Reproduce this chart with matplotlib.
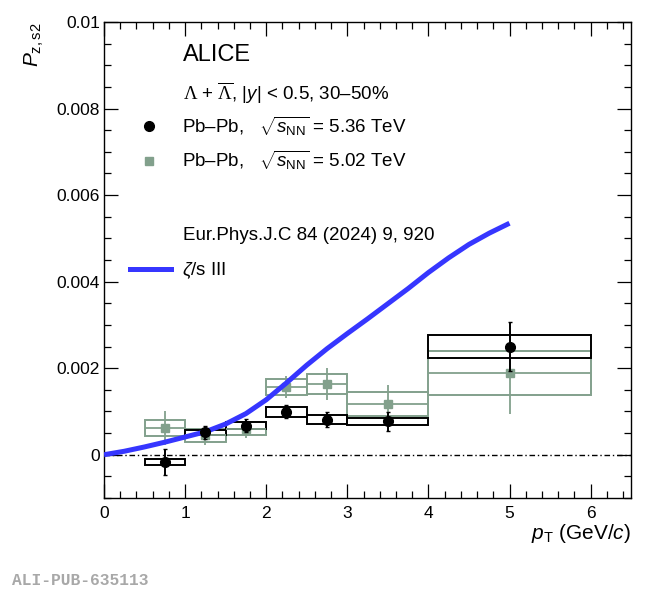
import matplotlib
matplotlib.use('Agg')
import matplotlib.pyplot as plt
from matplotlib.lines import Line2D
from matplotlib.ticker import MultipleLocator, FixedLocator
import numpy as np

plt.rcParams['font.family'] = ['Liberation Sans', 'DejaVu Sans']
plt.rcParams['mathtext.fontset'] = 'custom'
plt.rcParams['mathtext.rm'] = 'Liberation Sans'
plt.rcParams['mathtext.it'] = 'Liberation Sans:italic'
plt.rcParams['mathtext.bf'] = 'Liberation Sans:bold'
plt.rcParams['mathtext.sf'] = 'Liberation Serif'  # serif greek like ROOT

# pT bins
pt = np.array([0.75, 1.25, 1.75, 2.25, 2.75, 3.5, 5.0])
pt_lo = np.array([0.5, 1.0, 1.5, 2.0, 2.5, 3.0, 4.0])
pt_hi = np.array([1.0, 1.5, 2.0, 2.5, 3.0, 4.0, 6.0])

# Pb-Pb 5.36 TeV
pz_536 = np.array([-0.00016, 0.00052, 0.00067, 0.00099, 0.00081, 0.00077, 0.00250])
stat_536 = np.array([0.00030, 0.00015, 0.00015, 0.00015, 0.00018, 0.00022, 0.00056])
sys_536 = np.array([0.00007, 0.00006, 0.00008, 0.00011, 0.00010, 0.00009, 0.00026])

# Pb-Pb 5.02 TeV
pz_502 = np.array([0.00062, 0.00045, 0.00060, 0.00156, 0.00163, 0.00117, 0.00189])
stat_502 = np.array([0.00039, 0.00022, 0.00022, 0.00026, 0.00037, 0.00045, 0.00094])
sys_502 = np.array([0.00018, 0.00015, 0.00015, 0.00018, 0.00023, 0.00028, 0.00051])

# zeta/s III model
model_pt = [0, 0.25, 0.5, 0.75, 1.0, 1.25, 1.5, 1.75, 2.0, 2.25, 2.5, 2.75, 3.0, 3.25,
            3.5, 3.75, 4.0, 4.25, 4.5, 4.75, 5.0]
model_pz = [0, 0.00008, 0.00018, 0.00029, 0.00041, 0.00053, 0.00071, 0.00095, 0.00127,
            0.00166, 0.00207, 0.00245, 0.00280, 0.00314, 0.00349, 0.00384, 0.00421,
            0.00455, 0.00486, 0.00512, 0.00535]

ytick_vals = [0, 0.002, 0.004, 0.006, 0.008, 0.01]
ytick_labels = ['0', '0.002', '0.004', '0.006', '0.008', '0.01']

black = 'black'
green = '#82a08c'
blue = '#3636ff'

fig = plt.figure(figsize=(6.5, 5.92), dpi=100)
ax = fig.add_axes([0.16, 0.1588, 0.811, 0.804])

ax.axhline(0, color='black', lw=1.0, dashes=(4, 2, 1, 2), zorder=1)

# systematic boxes
ax.bar(pt_lo, 2 * sys_502, bottom=pz_502 - sys_502, width=pt_hi - pt_lo, align='edge',
       fill=False, edgecolor=green, lw=1.4, zorder=2)
ax.bar(pt_lo, 2 * sys_536, bottom=pz_536 - sys_536, width=pt_hi - pt_lo, align='edge',
       fill=False, edgecolor=black, lw=1.4, zorder=3)

ax.errorbar(pt, pz_502, yerr=stat_502, xerr=[pt - pt_lo, pt_hi - pt], fmt='s', color=green,
            ms=6, lw=1.3, capsize=0, zorder=3)
ax.plot(model_pt, model_pz, color=blue, lw=3.6, zorder=4, solid_capstyle='butt',
        solid_joinstyle='round')
ax.errorbar(pt, pz_536, yerr=stat_536, fmt='o', color=black, ms=7, lw=1.4,
            capsize=1.5, zorder=5)

ax.set_xlim(0, 6.5)
ax.set_ylim(-0.001, 0.01)
ax.xaxis.set_major_locator(MultipleLocator(1))
ax.xaxis.set_minor_locator(MultipleLocator(0.2))
ax.yaxis.set_major_locator(FixedLocator(ytick_vals))
ax.yaxis.set_minor_locator(MultipleLocator(0.0005))
ax.set_yticklabels(ytick_labels)
ax.tick_params(which='both', direction='in', top=True, right=True, labelsize=12.5, width=0.9)
ax.tick_params(which='major', length=10)
ax.tick_params(which='minor', length=5)
ax.tick_params(axis='y', pad=3)
ax.tick_params(axis='x', pad=6)
for s in ax.spines.values():
    s.set_linewidth(1.0)

fig.text(0.053, 0.961, r'$P_{\rm z,s2}$', rotation=90, ha='center', va='top', fontsize=15)
ax.text(1.0, -0.0756, r'$p_{\rm T}$ (GeV/$c$)', transform=ax.transAxes, ha='right', va='center',
        fontsize=15)

ax.text(0.15, 0.931, 'ALICE', transform=ax.transAxes, fontsize=17, va='center')
ax.text(0.15, 0.851, r'$\mathsf{\Lambda}$ + $\overline{\mathsf{\Lambda}}$, |$y$| < 0.5, 30–50%',
        transform=ax.transAxes, fontsize=13.5, va='center')
ax.text(0.15, 0.5525, 'Eur.Phys.J.C 84 (2024) 9, 920', transform=ax.transAxes,
        fontsize=13.5, va='center')

h1 = [Line2D([], [], ls='none', marker='o', color=black, ms=7),
      Line2D([], [], ls='none', marker='s', color=green, ms=6)]
leg1 = ax.legend(h1, [r'Pb–Pb,   $\sqrt{s_{\rm NN}}$ = 5.36 TeV', r'Pb–Pb,   $\sqrt{s_{\rm NN}}$ = 5.02 TeV'],
                 loc='upper left', bbox_to_anchor=(0.027, 0.825), frameon=False, fontsize=13.5,
                 handlelength=2.3, handletextpad=0.6, labelspacing=0.6, borderpad=0)
ax.add_artist(leg1)
h2 = [Line2D([], [], color=blue, lw=3.6)]
ax.legend(h2, [r'$\zeta$/s III'], loc='upper left', bbox_to_anchor=(0.032, 0.519), frameon=False,
          fontsize=13.5, handlelength=2.15, handletextpad=0.6, borderpad=0)

fig.text(0.018, 0.02, 'ALI-PUB-635113', fontfamily='Liberation Mono', fontweight='bold',
         color='#a8a8a8', fontsize=11.7, va='center')

fig.savefig('out.png', dpi=100)
